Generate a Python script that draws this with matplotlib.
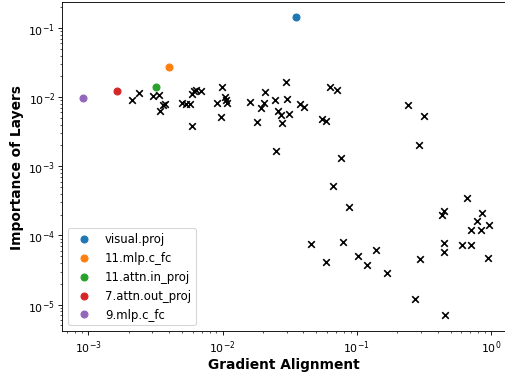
import matplotlib
matplotlib.use("Agg")
import matplotlib.pyplot as plt

# Highlighted layers
layer_names = ["visual.proj", "11.mlp.c_fc", "11.attn.in_proj", "7.attn.out_proj", "9.mlp.c_fc"]
layer_align = [0.0355, 0.00398, 0.00318, 0.00163, 0.000908]
layer_importance = [0.144, 0.0270, 0.01422, 0.01245, 0.00962]

# Other layers
other_align = [
    0.002113, 0.002368, 0.00304, 0.003352, 0.003409, 0.003620, 0.003747, 0.004994, 0.005383, 0.005726,
    0.005966, 0.006132, 0.006389, 0.006877, 0.005927, 0.009042, 0.009965, 0.00973, 0.01049, 0.01067,
    0.01085, 0.01609, 0.01814, 0.01942, 0.02031, 0.02065, 0.02468, 0.02958, 0.03046, 0.02580,
    0.02734, 0.03135, 0.02762, 0.03803, 0.04025, 0.05542, 0.05935, 0.06322, 0.07162, 0.2413,
    0.3174, 0.02510, 0.07629, 0.2912, 0.06609, 0.08692, 0.6622, 0.4467, 0.4339, 0.8515,
    0.7900, 0.7126, 0.8485, 0.9647, 0.04551, 0.07935, 0.1379, 0.4467, 0.6028, 0.7126,
    0.4467, 0.1026, 0.05914, 0.1182, 0.1685, 0.2963, 0.9434, 0.2734, 0.456,
]
other_importance = [
    0.0090, 0.01148, 0.01029, 0.01088, 0.00631, 0.00762, 0.00801, 0.00815, 0.00807, 0.00807,
    0.0110, 0.01227, 0.01269, 0.01227, 0.003878, 0.00834, 0.01402, 0.00516, 0.01005, 0.00910,
    0.00815, 0.00842, 0.00443, 0.00706, 0.00823, 0.01203, 0.00910, 0.01679, 0.00940, 0.00639,
    0.00559, 0.00571, 0.00419, 0.00807, 0.00730, 0.00483, 0.00448, 0.01421, 0.01256, 0.00762,
    0.00528, 0.001648, 0.001318, 0.00206, 0.000514, 0.000255, 0.000345, 0.000227, 0.000200, 0.000214,
    0.000164, 0.0001187, 0.0001187, 0.0001435, 7.40e-5, 8.01e-5, 6.20e-5, 7.83e-5, 7.38e-5, 7.38e-5,
    5.71e-5, 4.99e-5, 4.12e-5, 3.70e-5, 2.90e-5, 4.63e-5, 4.72e-5, 1.193e-5, 6.96e-6,
]

# The reference looks like a 6.4x4.8in figure rendered at ~79 dpi
fig = plt.figure(figsize=(6.405, 4.772), dpi=79)
W, H = 506, 377
ax = fig.add_axes([62/W, 1 - 332/H, (505 - 62)/W, (332 - 3)/H])

ax.scatter(other_align, other_importance, marker="x", color="black", s=36, linewidths=1.5)
colors = ["C0", "C1", "C2", "C3", "C4"]
for name, xa, yi, c in zip(layer_names, layer_align, layer_importance, colors):
    ax.scatter([xa], [yi], color=c, s=40, label=name)

ax.set_xscale("log")
ax.set_yscale("log")
ax.set_xlim(6.37e-4, 1.27)
ax.set_ylim(4.15e-6, 0.2377)
ax.tick_params(labelsize=10, pad=2.8)
ax.set_xlabel("Gradient Alignment", fontsize=12.5, fontweight="bold", labelpad=2.5)
ax.set_ylabel("Importance of Layers", fontsize=12.5, fontweight="bold")
ax.legend(loc="lower left", fontsize=10.6)

fig.savefig("out.png", dpi=79)
